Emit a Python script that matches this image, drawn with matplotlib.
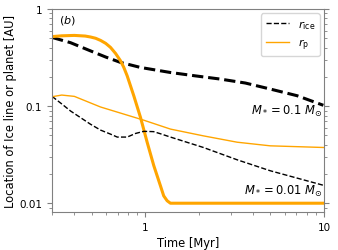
import matplotlib
matplotlib.use('Agg')
import matplotlib.pyplot as plt
from matplotlib.ticker import FixedLocator, FixedFormatter, LogLocator, NullFormatter

# M* = 0.1 Msun
t_ice_big = [0.30, 0.381, 0.49, 0.60, 0.725, 0.94, 1.38, 1.9, 2.62, 3.62, 4.99, 7.06, 9.9]
r_ice_big = [0.51, 0.45, 0.372, 0.32, 0.282, 0.25, 0.222, 0.205, 0.19, 0.173, 0.15, 0.128, 0.102]
t_p_big = [0.30, 0.34, 0.40, 0.46, 0.493, 0.526, 0.561, 0.599, 0.637, 0.68, 0.725, 0.756, 0.79,
           0.86, 0.938, 1.022, 1.113, 1.213, 1.265, 1.322, 1.379, 10]
r_p_big = [0.52, 0.53, 0.535, 0.527, 0.515, 0.50, 0.475, 0.443, 0.403, 0.349, 0.293, 0.251, 0.205,
           0.128, 0.0765, 0.0424, 0.0244, 0.0151, 0.0119, 0.0106, 0.0100, 0.0100]

# M* = 0.01 Msun
t_ice_small = [0.30, 0.343, 0.381, 0.493, 0.561, 0.637, 0.695, 0.79, 0.88, 0.978, 1.11, 1.21,
               1.38, 2.11, 3.26, 4.99, 9.9]
r_ice_small = [0.126, 0.104, 0.089, 0.065, 0.0566, 0.0515, 0.048, 0.048, 0.0523, 0.055, 0.0546, 0.052,
               0.048, 0.0375, 0.028, 0.0216, 0.0153]
t_p_small = [0.30, 0.34, 0.40, 0.56, 0.97, 1.38, 2.11, 3.26, 4.99, 9.9]
r_p_small = [0.125, 0.130, 0.126, 0.098, 0.072, 0.058, 0.0494, 0.0425, 0.039, 0.0375]

orange = '#FFA500'
grey = '#808080'

fig = plt.figure(figsize=(3.38, 2.51), dpi=100)
ax = fig.add_axes([0.154, 0.151, 0.805, 0.809])

ax.plot(t_ice_big, r_ice_big, color='black', linestyle='--', linewidth=2.2)
ax.plot(t_p_big, r_p_big, color=orange, linewidth=2.2)
ax.plot(t_ice_small, r_ice_small, color='black', linestyle='--', linewidth=1.0, label=r'$r_{\rm ice}$')
ax.plot(t_p_small, r_p_small, color=orange, linewidth=1.0, label=r'$r_{\rm p}$')

ax.set_xscale('log')
ax.set_yscale('log')
ax.set_xlim(0.3, 10)
ax.set_ylim(0.0081, 1)

ax.xaxis.set_major_locator(FixedLocator([1, 10]))
ax.xaxis.set_major_formatter(FixedFormatter(['1', '10']))
ax.xaxis.set_minor_locator(LogLocator(base=10, subs=range(2, 10)))
ax.xaxis.set_minor_formatter(NullFormatter())
ax.yaxis.set_major_locator(FixedLocator([0.01, 0.1, 1]))
ax.yaxis.set_major_formatter(FixedFormatter(['0.01', '0.1', '1']))
ax.yaxis.set_minor_locator(LogLocator(base=10, subs=range(2, 10)))
ax.yaxis.set_minor_formatter(NullFormatter())

ax.tick_params(which='both', direction='out', colors=grey, labelcolor='black', labelsize=7.5,
               right=True, top=False)
ax.tick_params(which='major', length=3.5, width=0.8)
ax.tick_params(which='minor', length=2, width=0.6)
for s in ax.spines.values():
    s.set_color(grey)

ax.set_xlabel('Time [Myr]', fontsize=8.3, labelpad=3)
ax.set_ylabel('Location of Ice line or planet [AU]', fontsize=8.3, labelpad=2)

ax.text(0.025, 0.95, r'$(b)$', transform=ax.transAxes, fontsize=8, va='center', ha='left')
ax.text(0.995, 0.50, r'$M_* = 0.1\ M_{\odot}$', transform=ax.transAxes, fontsize=8.3, va='center', ha='right')
ax.text(0.995, 0.105, r'$M_* = 0.01\ M_{\odot}$', transform=ax.transAxes, fontsize=8.3, va='center', ha='right')

ax.legend(loc='upper right', fontsize=8, handlelength=2.1, borderaxespad=0.4)

fig.savefig('out.png', dpi=100)
